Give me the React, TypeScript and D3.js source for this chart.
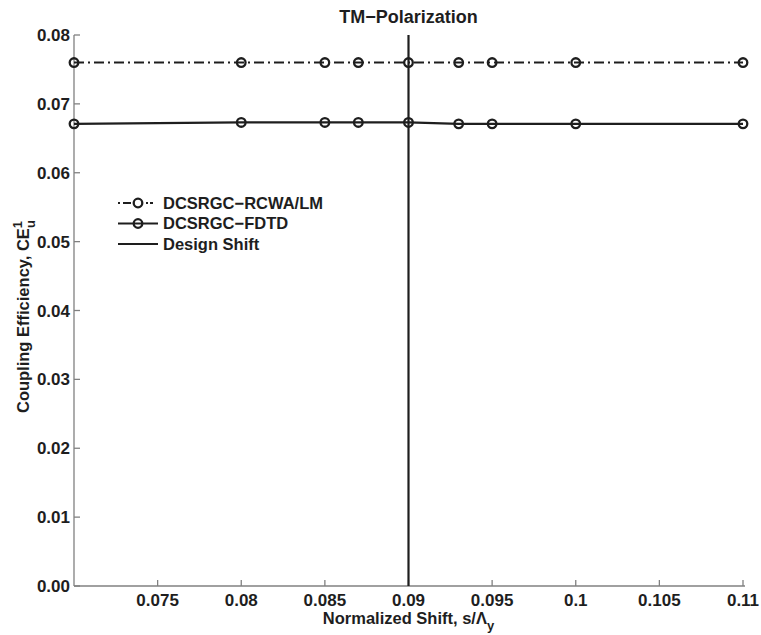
import React from "react";
import * as d3 from "d3";

const shifts = [0.07, 0.08, 0.085, 0.087, 0.09, 0.093, 0.095, 0.1, 0.11];
const rcwa = [0.076, 0.076, 0.076, 0.076, 0.076, 0.076, 0.076, 0.076, 0.076];
const fdtd = [0.0671, 0.0673, 0.0673, 0.0673, 0.0673, 0.0671, 0.0671, 0.0671, 0.0671];
const designShift = 0.09;
const xTicks = [0.075, 0.08, 0.085, 0.09, 0.095, 0.1, 0.105, 0.11];
const yTicks = [0, 0.01, 0.02, 0.03, 0.04, 0.05, 0.06, 0.07, 0.08];
const legendLabels = ["DCSRGC\u2212RCWA/LM", "DCSRGC\u2212FDTD", "Design Shift"];

const W = 761, H = 635;
const left = 74, right = 743, top = 35, bottom = 586;
const font = "'Liberation Sans', Arial, sans-serif";
const ink = "#1e1e1e";
const axisCol = "#808080";
const dash = "10,4,2,4";
const fs = 16.5;
const tickFs = 17;

export default function App() {
  const x = d3.scaleLinear().domain([0.07, 0.11]).range([left, right]);
  const y = d3.scaleLinear().domain([0, 0.08]).range([bottom, top]);
  const line = d3.line<number>().x((_, i) => x(shifts[i])).y((d) => y(d));
  const ytf = d3.format(".2f");
  const xtf = (v: number) => String(+v.toFixed(3));

  return (
    <svg width={W} height={H} style={{ position: "absolute", left: 0, top: 0, background: "#fff" }} fontFamily={font}>
      {/* axes */}
      <line x1={left} x2={left} y1={top} y2={bottom} stroke={axisCol} strokeWidth={1.3} />
      <line x1={left} x2={right + 2} y1={bottom} y2={bottom} stroke={axisCol} strokeWidth={1.3} />
      {yTicks.map((t) => (
        <g key={"y" + t}>
          <line x1={left} x2={left + 6} y1={y(t)} y2={y(t)} stroke={axisCol} strokeWidth={1.3} />
          <text x={left - 4} y={y(t)} dy="0.36em" textAnchor="end" fontSize={tickFs} fontWeight="bold" fill={ink}>
            {ytf(t)}
          </text>
        </g>
      ))}
      {xTicks.map((t) => (
        <g key={"x" + t}>
          <line x1={x(t)} x2={x(t)} y1={bottom} y2={bottom - 6} stroke={axisCol} strokeWidth={1.3} />
          <text x={x(t)} y={bottom + 20} textAnchor="middle" fontSize={tickFs} fontWeight="bold" fill={ink}>
            {xtf(t)}
          </text>
        </g>
      ))}
      {/* design shift line */}
      <line x1={x(designShift)} x2={x(designShift)} y1={top} y2={bottom} stroke={ink} strokeWidth={2.2} />
      {/* series */}
      <path d={line(rcwa) || ""} fill="none" stroke={ink} strokeWidth={2} strokeDasharray={dash} />
      <path d={line(fdtd) || ""} fill="none" stroke={ink} strokeWidth={2.2} />
      {rcwa.map((v, i) => (
        <circle key={"r" + i} cx={x(shifts[i])} cy={y(v)} r={4.3} fill="none" stroke={ink} strokeWidth={2.3} />
      ))}
      {fdtd.map((v, i) => (
        <circle key={"f" + i} cx={x(shifts[i])} cy={y(v)} r={4.3} fill="none" stroke={ink} strokeWidth={2.3} />
      ))}
      {/* title */}
      <text x={x(designShift)} y={23} textAnchor="middle" fontSize={18} fontWeight="bold" fill={ink}>
        TM{"\u2212"}Polarization
      </text>
      {/* x label */}
      <text x={x(designShift)} y={624} textAnchor="middle" fontSize={fs} fontWeight="bold" fill={ink}>
        Normalized Shift, s/{"\u039B"}
        <tspan fontSize={13} dy={6}>y</tspan>
      </text>
      {/* y label */}
      <g transform={`translate(29, ${(top + bottom) / 2 + 6}) rotate(-90)`}>
        <text x={0} y={0} textAnchor="middle" fontSize={fs} fontWeight="bold" fill={ink}>
          Coupling Efficiency, CE
          <tspan fontSize={13} dy={-7}>1</tspan>
          <tspan fontSize={13} dx={-7} dy={13}>u</tspan>
        </text>
      </g>
      {/* legend */}
      {legendLabels.map((lab, i) => {
        const ly = 203 + i * 20.5;
        return (
          <g key={"l" + i}>
            <line
              x1={118}
              x2={158}
              y1={ly}
              y2={ly}
              stroke={ink}
              strokeWidth={2}
              strokeDasharray={i === 0 ? "2,3,8,4,8,3,2" : undefined}
            />
            {i < 2 && <circle cx={138} cy={ly} r={4.3} fill={i === 0 ? "#fff" : "none"} stroke={ink} strokeWidth={2.3} />}
            <text x={163} y={ly} dy="0.36em" fontSize={fs} fontWeight="bold" fill={ink}>
              {lab}
            </text>
          </g>
        );
      })}
    </svg>
  );
}
